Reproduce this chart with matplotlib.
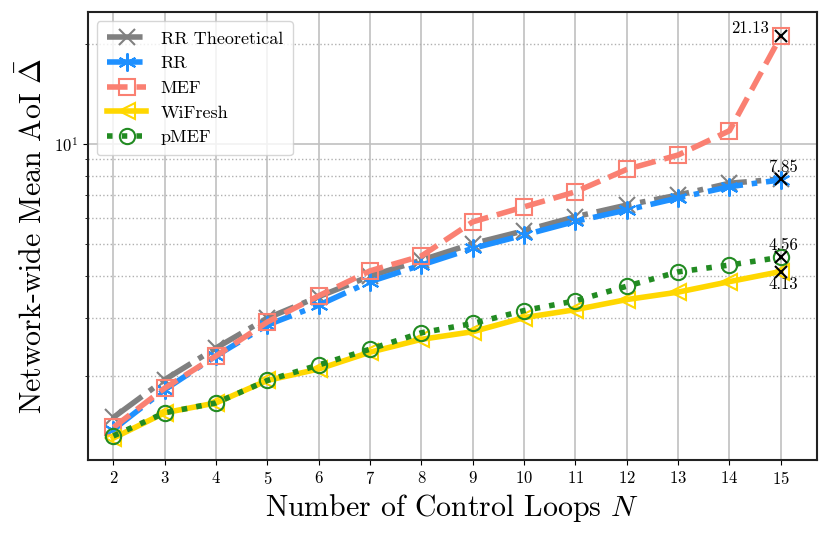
import matplotlib
matplotlib.use("Agg")
import matplotlib.pyplot as plt
from matplotlib.ticker import NullFormatter

plt.rcParams["font.family"] = "serif"
plt.rcParams["font.serif"] = ["cmr10"]
plt.rcParams["mathtext.fontset"] = "cm"
plt.rcParams["axes.formatter.use_mathtext"] = True

loops = list(range(2, 16))
rr_theory = [1.50, 1.95, 2.43, 2.99, 3.47, 4.00, 4.47, 5.01, 5.48, 6.04, 6.55, 7.02, 7.62, 7.85]
rr = [1.38, 1.82, 2.30, 2.85, 3.27, 3.85, 4.32, 4.85, 5.32, 5.85, 6.33, 6.88, 7.44, 7.80]
mef = [1.40, 1.84, 2.30, 2.91, 3.49, 4.15, 4.60, 5.83, 6.47, 7.18, 8.39, 9.27, 10.97, 21.13]
wifresh = [1.30, 1.55, 1.66, 1.94, 2.10, 2.36, 2.58, 2.72, 3.00, 3.17, 3.40, 3.58, 3.85, 4.13]
pmef = [1.32, 1.55, 1.66, 1.94, 2.16, 2.41, 2.70, 2.88, 3.15, 3.37, 3.73, 4.12, 4.32, 4.56]

fig = plt.figure(figsize=(8.3, 5.39), dpi=100)
ax = fig.add_axes([0.1057, 0.1466, 0.8783, 0.8311])

ax.plot(loops, rr_theory, color="gray", ls="-.", lw=4, marker="x", ms=12, mew=1.5,
        label="RR Theoretical")
ax.plot(loops, rr, color="dodgerblue", ls="-.", lw=4, marker=(6, 2, 0), ms=13, mew=1.5,
        label="RR")
ax.plot(loops, mef, color="salmon", ls="--", lw=4, marker="s", ms=11, mew=1.5,
        mfc="none", label="MEF")
ax.plot(loops, wifresh, color="gold", ls="-", lw=4, marker="<", ms=11, mew=1.5,
        mfc="none", label="WiFresh")
ax.plot(loops, pmef, color="forestgreen", ls=":", lw=4, marker="o", ms=11, mew=1.5,
        mfc="none", label="pMEF")

# highlight final values
last = [mef[-1], rr_theory[-1], pmef[-1], wifresh[-1]]
ax.plot([loops[-1]] * len(last), last, ls="none", marker="x", color="black", ms=9, mew=1.5,
        zorder=5)
ax.text(loops[-1] - 0.22, mef[-1], f"{mef[-1]:.2f}", ha="right", va="bottom", fontsize=12)
ax.text(loops[-1] + 0.05, rr_theory[-1] * 1.03, f"{rr_theory[-1]:.2f}", ha="center",
        va="bottom", fontsize=12)
ax.text(loops[-1] + 0.05, pmef[-1] * 1.03, f"{pmef[-1]:.2f}", ha="center", va="bottom",
        fontsize=12)
ax.text(loops[-1] + 0.05, wifresh[-1] * 0.965, f"{wifresh[-1]:.2f}", ha="center", va="top",
        fontsize=12)

ax.set_yscale("log")
ax.set_xlim(1.5, 15.7)
ax.set_ylim(1.117, 25)
ax.set_xticks(loops)
ax.yaxis.set_minor_formatter(NullFormatter())
ax.tick_params(labelsize=12)

ax.grid(True, which="major", color="#c0c0c0", lw=1.2)
ax.grid(True, which="minor", axis="y", color="#b0b0b0", ls=":", lw=1)
ax.set_axisbelow(True)
for s in ax.spines.values():
    s.set_linewidth(1.5)
    s.set_color("#222222")

ax.set_xlabel("Number of Control Loops $N$", fontsize=21.5)
ax.set_ylabel(r"Network-wide Mean AoI $\bar{\Delta}$", fontsize=21.5)

ax.legend(loc="upper left", fontsize=13, handlelength=2.2, borderpad=0.55,
          labelspacing=0.5)

fig.savefig("out.png")
